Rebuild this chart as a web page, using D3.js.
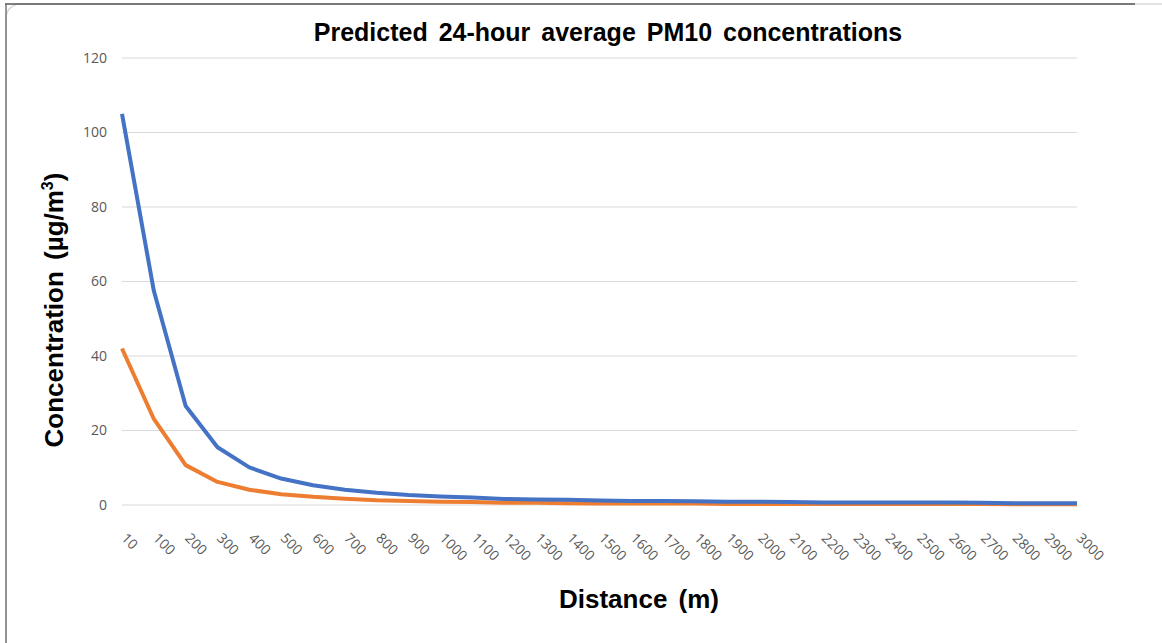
<!DOCTYPE html>
<html>
<head>
<meta charset="utf-8">
<script src="https://cdn.jsdelivr.net/npm/d3@7"></script>
<style>
  body { margin: 0; background: #fff; }
  svg { display: block; }
</style>
</head>
<body>
<div id="chart"></div>
<script>
// Chart data
var distances = ["10","100","200","300","400","500","600","700","800","900","1000",
  "1100","1200","1300","1400","1500","1600","1700","1800","1900","2000",
  "2100","2200","2300","2400","2500","2600","2700","2800","2900","3000"];

var blueValues = [105, 57.5, 26.6, 15.5, 10.1, 7.1, 5.3, 4.1, 3.3, 2.7, 2.3,
  2.0, 1.6, 1.5, 1.4, 1.2, 1.1, 1.1, 1.0, 0.9, 0.9,
  0.8, 0.7, 0.7, 0.7, 0.7, 0.7, 0.6, 0.5, 0.5, 0.5];

var orangeValues = [42, 23.1, 10.7, 6.2, 4.1, 2.9, 2.2, 1.7, 1.3, 1.1, 0.9,
  0.8, 0.6, 0.6, 0.5, 0.4, 0.4, 0.4, 0.4, 0.3, 0.3,
  0.3, 0.3, 0.3, 0.3, 0.3, 0.3, 0.3, 0.2, 0.2, 0.2];

var yTicks = [0, 20, 40, 60, 80, 100, 120];

var svgWidth = 1162;
var svgHeight = 643;

var margin = { top: 58, bottom: 138, left: 122, right: 85 };
var width = svgWidth - margin.left - margin.right;
var height = svgHeight - margin.top - margin.bottom;

var svg = d3.select("#chart")
  .append("svg")
  .attr("width", svgWidth)
  .attr("height", svgHeight);

// frame of the pasted chart
svg.append("rect")
  .attr("x", 6).attr("y", 4)
  .attr("width", 1180).attr("height", 660)
  .attr("rx", 14)
  .attr("fill", "#fff")
  .attr("stroke", "#d9d9d9")
  .attr("stroke-width", 1.5);
svg.append("line")
  .attr("x1", 5).attr("x2", 1135).attr("y1", 4).attr("y2", 4)
  .attr("stroke", "#555").attr("stroke-width", 1.5);
svg.append("line")
  .attr("x1", 6).attr("x2", 6).attr("y1", 4).attr("y2", 643)
  .attr("stroke", "#777").attr("stroke-width", 1.5);

var chartGroup = svg.append("g")
  .attr("transform", `translate(${margin.left}, ${margin.top})`);

var xScale = d3.scalePoint()
  .domain(distances)
  .range([0, width]);

var yScale = d3.scaleLinear()
  .domain([0, 120])
  .range([height, 0]);

// gridlines
chartGroup.append("g")
  .selectAll("line")
  .data(yTicks)
  .enter()
  .append("line")
  .attr("x1", 0)
  .attr("x2", width)
  .attr("y1", d => yScale(d))
  .attr("y2", d => yScale(d))
  .attr("stroke", "#d9d9d9")
  .attr("stroke-width", 1.2);

// y axis labels
var leftAxis = d3.axisLeft(yScale).tickValues(yTicks).tickSize(0).tickPadding(15);
var yAxis = chartGroup.append("g").call(leftAxis);
yAxis.select(".domain").remove();
yAxis.selectAll("text")
  .attr("font-family", "'Open Sans', sans-serif")
  .attr("font-size", "14px")
  .attr("fill", "#595959");

// x axis labels, rotated
var bottomAxis = d3.axisBottom(xScale).tickSize(0).tickPadding(0);
var xAxis = chartGroup.append("g")
  .attr("transform", `translate(0, ${height})`)
  .call(bottomAxis);
xAxis.select(".domain").remove();
xAxis.selectAll("text")
  .attr("font-family", "'Open Sans', sans-serif")
  .attr("font-size", "14px")
  .attr("fill", "#595959")
  .attr("text-anchor", "start")
  .attr("dy", null)
  .attr("y", 0)
  .attr("transform", "translate(-2, 34) rotate(45)");

// lines
var line = d3.line()
  .x((d, i) => xScale(distances[i]))
  .y(d => yScale(d));

chartGroup.append("path")
  .datum(orangeValues)
  .attr("d", line)
  .attr("fill", "none")
  .attr("stroke", "#ED7D31")
  .attr("stroke-width", 4)
  .attr("stroke-linejoin", "round");

chartGroup.append("path")
  .datum(blueValues)
  .attr("d", line)
  .attr("fill", "none")
  .attr("stroke", "#4472C4")
  .attr("stroke-width", 4)
  .attr("stroke-linejoin", "round");

// title
svg.append("text")
  .attr("x", 608)
  .attr("y", 41)
  .attr("text-anchor", "middle")
  .attr("font-family", "'Liberation Sans', Arial, sans-serif")
  .attr("font-weight", "bold")
  .attr("font-size", "25px")
  .attr("word-spacing", "4px")
  .attr("fill", "#000")
  .text("Predicted 24-hour average PM10 concentrations");

// x axis title
svg.append("text")
  .attr("x", 639)
  .attr("y", 608)
  .attr("text-anchor", "middle")
  .attr("font-family", "'Liberation Sans', Arial, sans-serif")
  .attr("font-weight", "bold")
  .attr("font-size", "26px")
  .attr("word-spacing", "4px")
  .attr("fill", "#000")
  .text("Distance (m)");

// y axis title
var yTitle = svg.append("text")
  .attr("transform", "translate(63, 310) rotate(-90)")
  .attr("text-anchor", "middle")
  .attr("font-family", "'Liberation Sans', Arial, sans-serif")
  .attr("font-weight", "bold")
  .attr("font-size", "26px")
  .attr("word-spacing", "4px")
  .attr("fill", "#000");
yTitle.append("tspan").text("Concentration (µg/m");
yTitle.append("tspan").attr("dy", -10).attr("font-size", "16px").text("3");
yTitle.append("tspan").attr("dy", 10).text(")");
</script>
</body>
</html>
